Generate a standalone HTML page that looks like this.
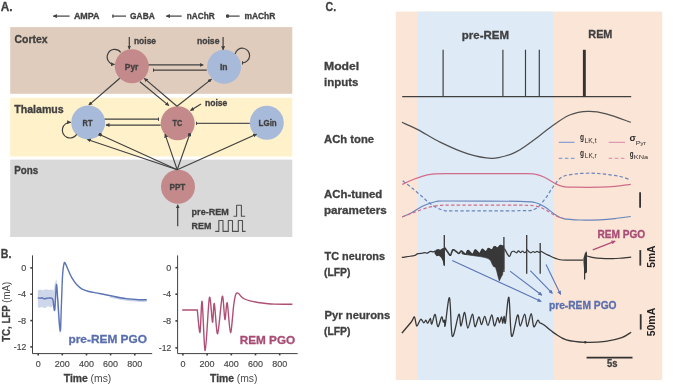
<!DOCTYPE html>
<html><head><meta charset="utf-8"><style>
html,body{margin:0;padding:0;background:#fff;}
svg{display:block;font-family:"Liberation Sans",sans-serif;will-change:transform;}
</style></head><body>
<svg width="685" height="387" viewBox="0 0 685 387">
<rect width="685" height="387" fill="#fff"/>
<defs>
<marker id="ar" viewBox="0 0 10 10" refX="9" refY="5" markerWidth="4" markerHeight="4" markerUnits="userSpaceOnUse" orient="auto"><path d="M0,0 L10,5 L0,10 z" fill="#404040"/></marker>
<marker id="tb" viewBox="0 0 4 10" refX="2" refY="5" markerWidth="1.3" markerHeight="4" markerUnits="userSpaceOnUse" orient="auto"><rect x="0" y="0" width="4" height="10" fill="#404040"/></marker>
<marker id="dt" viewBox="0 0 10 10" refX="5" refY="5" markerWidth="3.5" markerHeight="3.5" markerUnits="userSpaceOnUse" orient="auto"><circle cx="5" cy="5" r="5" fill="#404040"/></marker>
<marker id="arb" viewBox="0 0 10 10" refX="9" refY="5" markerWidth="4.5" markerHeight="4" markerUnits="userSpaceOnUse" orient="auto"><path d="M0,0 L10,5 L0,10 z" fill="#5B74B4"/></marker>
<marker id="arr" viewBox="0 0 10 10" refX="9" refY="5" markerWidth="4.5" markerHeight="4" markerUnits="userSpaceOnUse" orient="auto"><path d="M0,0 L10,5 L0,10 z" fill="#B04F75"/></marker>
</defs>
<text x="0.8" y="11.0" font-size="12.60" font-weight="bold" fill="#404040" text-anchor="start" textLength="11.8" lengthAdjust="spacingAndGlyphs" stroke="#404040" stroke-width="0.30" >A.</text>
<line x1="69.6" y1="16.1" x2="53.3" y2="16.1" stroke="#404040" stroke-width="1.20" marker-end="url(#ar)" />
<text x="73.9" y="19.3" font-size="9.00" font-weight="bold" fill="#404040" text-anchor="start" textLength="25.7" lengthAdjust="spacingAndGlyphs" stroke="#404040" stroke-width="0.30" >AMPA</text>
<line x1="126.0" y1="16.1" x2="112.9" y2="16.1" stroke="#404040" stroke-width="1.20" marker-end="url(#tb)" />
<text x="130.1" y="19.3" font-size="9.00" font-weight="bold" fill="#404040" text-anchor="start" textLength="24.6" lengthAdjust="spacingAndGlyphs" stroke="#404040" stroke-width="0.30" >GABA</text>
<line x1="181.7" y1="16.1" x2="166.3" y2="16.1" stroke="#404040" stroke-width="1.20" marker-end="url(#ar)" />
<text x="186.8" y="19.3" font-size="9.00" font-weight="bold" fill="#404040" text-anchor="start" textLength="27.9" lengthAdjust="spacingAndGlyphs" stroke="#404040" stroke-width="0.30" >nAChR</text>
<line x1="239.6" y1="16.1" x2="227.6" y2="16.1" stroke="#404040" stroke-width="1.20" marker-end="url(#dt)" />
<text x="244.4" y="19.3" font-size="9.00" font-weight="bold" fill="#404040" text-anchor="start" textLength="31.0" lengthAdjust="spacingAndGlyphs" stroke="#404040" stroke-width="0.30" >mAChR</text>
<rect x="10.2" y="27.1" width="282.1" height="66.7" fill="#E0CCBC"/>
<rect x="10.2" y="97.8" width="282.1" height="58.7" fill="#FFF1C9"/>
<rect x="10.2" y="159.6" width="282.1" height="77.4" fill="#D9D9D9"/>
<text x="14.6" y="42.5" font-size="10.10" font-weight="bold" fill="#404040" text-anchor="start" textLength="33.0" lengthAdjust="spacingAndGlyphs" stroke="#404040" stroke-width="0.30" >Cortex</text>
<text x="14.3" y="112.5" font-size="10.10" font-weight="bold" fill="#404040" text-anchor="start" textLength="49.4" lengthAdjust="spacingAndGlyphs" stroke="#404040" stroke-width="0.30" >Thalamus</text>
<text x="14.2" y="174.0" font-size="10.10" font-weight="bold" fill="#404040" text-anchor="start" textLength="24.0" lengthAdjust="spacingAndGlyphs" stroke="#404040" stroke-width="0.30" >Pons</text>
<circle cx="131.8" cy="66.3" r="17" fill="#C4898B"/>
<circle cx="224.1" cy="66.8" r="17" fill="#A8BAD9"/>
<circle cx="88.2" cy="122.4" r="17" fill="#A8BAD9"/>
<circle cx="177.7" cy="123.2" r="17" fill="#C4898B"/>
<circle cx="266.8" cy="122.8" r="17" fill="#A8BAD9"/>
<circle cx="178.0" cy="186.7" r="17" fill="#C4898B"/>
<text x="124.8" y="69.7" font-size="8.50" font-weight="bold" fill="#404040" text-anchor="start" textLength="13.5" lengthAdjust="spacingAndGlyphs" stroke="#404040" stroke-width="0.30" >Pyr</text>
<text x="219.9" y="70.2" font-size="8.50" font-weight="bold" fill="#404040" text-anchor="start" textLength="7.6" lengthAdjust="spacingAndGlyphs" stroke="#404040" stroke-width="0.30" >In</text>
<text x="82.6" y="125.8" font-size="8.50" font-weight="bold" fill="#404040" text-anchor="start" textLength="9.9" lengthAdjust="spacingAndGlyphs" stroke="#404040" stroke-width="0.30" >RT</text>
<text x="172.4" y="126.2" font-size="8.50" font-weight="bold" fill="#404040" text-anchor="start" textLength="9.8" lengthAdjust="spacingAndGlyphs" stroke="#404040" stroke-width="0.30" >TC</text>
<text x="258.6" y="125.9" font-size="8.50" font-weight="bold" fill="#404040" text-anchor="start" textLength="18.1" lengthAdjust="spacingAndGlyphs" stroke="#404040" stroke-width="0.30" >LGin</text>
<text x="169.5" y="190.0" font-size="8.50" font-weight="bold" fill="#404040" text-anchor="start" textLength="15.8" lengthAdjust="spacingAndGlyphs" stroke="#404040" stroke-width="0.30" >PPT</text>
<line x1="129.3" y1="36.9" x2="129.3" y2="49.1" stroke="#404040" stroke-width="1.20" marker-end="url(#ar)" />
<text x="133.9" y="43.9" font-size="9.20" font-weight="bold" fill="#404040" text-anchor="start" textLength="22.2" lengthAdjust="spacingAndGlyphs" stroke="#404040" stroke-width="0.30" >noise</text>
<line x1="223.1" y1="36.9" x2="223.1" y2="49.8" stroke="#404040" stroke-width="1.20" marker-end="url(#ar)" />
<text x="196.9" y="44.4" font-size="9.20" font-weight="bold" fill="#404040" text-anchor="start" textLength="22.6" lengthAdjust="spacingAndGlyphs" stroke="#404040" stroke-width="0.30" >noise</text>
<line x1="201.0" y1="103.9" x2="190.5" y2="110.6" stroke="#404040" stroke-width="1.20" marker-end="url(#ar)" />
<text x="204.9" y="105.5" font-size="9.20" font-weight="bold" fill="#404040" text-anchor="start" textLength="22.5" lengthAdjust="spacingAndGlyphs" stroke="#404040" stroke-width="0.30" >noise</text>
<path d="M120.7,52.4 A7.5,7.5 0 1 0 114.5,64.4" stroke="#404040" stroke-width="1.20" fill="none" marker-end="url(#ar)" />
<path d="M235.2,54.0 A7.3,7.3 0 1 1 242.6,62.8" stroke="#404040" stroke-width="1.20" fill="none" marker-end="url(#tb)" />
<path d="M76.7,134.4 A7.8,7.8 0 1 1 70.7,122.4" stroke="#404040" stroke-width="1.20" fill="none" marker-end="url(#ar)" />
<line x1="148.6" y1="64.9" x2="203.2" y2="64.9" stroke="#404040" stroke-width="1.25" marker-end="url(#ar)" />
<line x1="206.8" y1="70.1" x2="153.5" y2="70.1" stroke="#404040" stroke-width="1.25" marker-end="url(#tb)" />
<line x1="119.8" y1="78.3" x2="88.8" y2="105.1" stroke="#404040" stroke-width="1.20" marker-end="url(#ar)" />
<line x1="139.9" y1="81.7" x2="168.9" y2="105.6" stroke="#404040" stroke-width="1.20" marker-end="url(#ar)" />
<line x1="177.0" y1="106.2" x2="144.3" y2="78.4" stroke="#404040" stroke-width="1.20" marker-end="url(#ar)" />
<line x1="177.0" y1="106.2" x2="211.5" y2="79.1" stroke="#404040" stroke-width="1.20" marker-end="url(#ar)" />
<line x1="104.7" y1="119.2" x2="158.4" y2="119.2" stroke="#404040" stroke-width="1.25" marker-end="url(#tb)" />
<line x1="160.7" y1="125.0" x2="105.9" y2="125.0" stroke="#404040" stroke-width="1.25" marker-end="url(#ar)" />
<line x1="249.8" y1="123.4" x2="196.3" y2="123.4" stroke="#555" stroke-width="1.25" marker-end="url(#tb)" />
<line x1="177.2" y1="169.7" x2="87.4" y2="139.4" stroke="#404040" stroke-width="1.10" marker-end="url(#ar)" />
<line x1="177.2" y1="169.7" x2="100.1" y2="134.7" stroke="#404040" stroke-width="1.10" marker-end="url(#dt)" />
<line x1="177.2" y1="169.7" x2="165.0" y2="134.1" stroke="#404040" stroke-width="1.10" marker-end="url(#ar)" />
<line x1="177.2" y1="169.7" x2="189.5" y2="134.7" stroke="#404040" stroke-width="1.10" marker-end="url(#dt)" />
<line x1="177.2" y1="169.7" x2="256.6" y2="134.2" stroke="#404040" stroke-width="1.10" marker-end="url(#ar)" />
<line x1="177.7" y1="226.3" x2="177.7" y2="204.7" stroke="#404040" stroke-width="1.20" marker-end="url(#ar)" />
<text x="191.6" y="215.1" font-size="9.20" font-weight="bold" fill="#404040" text-anchor="start" textLength="37.2" lengthAdjust="spacingAndGlyphs" stroke="#404040" stroke-width="0.30" >pre-REM</text>
<text x="191.6" y="229.0" font-size="9.20" font-weight="bold" fill="#404040" text-anchor="start" textLength="19.8" lengthAdjust="spacingAndGlyphs" stroke="#404040" stroke-width="0.30" >REM</text>
<path d="M233.5,216.3 L236.6,216.3 L236.6,205.3 L241.4,205.3 L241.4,216.3 L245.2,216.3" stroke="#505050" stroke-width="1.10" fill="none" stroke-linejoin="round"/>
<path d="M215.2,231.4 L218.8,231.4 L218.8,220.5 L223.0,220.5 L223.0,231.4 L228.3,231.4 L228.3,220.5 L232.5,220.5 L232.5,231.4 L238.3,231.4 L238.3,220.5 L242.5,220.5 L242.5,231.4 L245.6,231.4" stroke="#505050" stroke-width="1.10" fill="none" stroke-linejoin="round"/>
<text x="0.8" y="258.0" font-size="12.60" font-weight="bold" fill="#404040" text-anchor="start" textLength="10.6" lengthAdjust="spacingAndGlyphs" stroke="#404040" stroke-width="0.30" >B.</text>
<line x1="32.5" y1="255.4" x2="32.5" y2="353.6" stroke="#404040" stroke-width="1.00" />
<line x1="32.5" y1="353.6" x2="152.2" y2="353.6" stroke="#404040" stroke-width="1.00" />
<line x1="30.3" y1="267.9" x2="32.5" y2="267.9" stroke="#404040" stroke-width="1.60" />
<text x="26.2" y="271.0" font-size="9.20" font-weight="normal" fill="#454545" text-anchor="end" textLength="5.0" lengthAdjust="spacingAndGlyphs" stroke="#454545" stroke-width="0.15">0</text>
<line x1="30.3" y1="294.2" x2="32.5" y2="294.2" stroke="#404040" stroke-width="1.60" />
<text x="26.2" y="297.3" font-size="9.20" font-weight="normal" fill="#454545" text-anchor="end" textLength="8.2" lengthAdjust="spacingAndGlyphs" stroke="#454545" stroke-width="0.15">-4</text>
<line x1="30.3" y1="320.6" x2="32.5" y2="320.6" stroke="#404040" stroke-width="1.60" />
<text x="26.2" y="323.7" font-size="9.20" font-weight="normal" fill="#454545" text-anchor="end" textLength="8.2" lengthAdjust="spacingAndGlyphs" stroke="#454545" stroke-width="0.15">-8</text>
<line x1="30.3" y1="346.9" x2="32.5" y2="346.9" stroke="#404040" stroke-width="1.60" />
<text x="26.2" y="350.0" font-size="9.20" font-weight="normal" fill="#454545" text-anchor="end" textLength="12.4" lengthAdjust="spacingAndGlyphs" stroke="#454545" stroke-width="0.15">-12</text>
<line x1="38.2" y1="353.6" x2="38.2" y2="355.4" stroke="#404040" stroke-width="1.60" />
<text x="38.2" y="367.0" font-size="9.20" font-weight="normal" fill="#454545" text-anchor="middle" textLength="5.0" lengthAdjust="spacingAndGlyphs" stroke="#454545" stroke-width="0.15">0</text>
<line x1="62.3" y1="353.6" x2="62.3" y2="355.4" stroke="#404040" stroke-width="1.60" />
<text x="62.3" y="367.0" font-size="9.20" font-weight="normal" fill="#454545" text-anchor="middle" textLength="15.0" lengthAdjust="spacingAndGlyphs" stroke="#454545" stroke-width="0.15">200</text>
<line x1="86.5" y1="353.6" x2="86.5" y2="355.4" stroke="#404040" stroke-width="1.60" />
<text x="86.5" y="367.0" font-size="9.20" font-weight="normal" fill="#454545" text-anchor="middle" textLength="15.0" lengthAdjust="spacingAndGlyphs" stroke="#454545" stroke-width="0.15">400</text>
<line x1="110.6" y1="353.6" x2="110.6" y2="355.4" stroke="#404040" stroke-width="1.60" />
<text x="110.6" y="367.0" font-size="9.20" font-weight="normal" fill="#454545" text-anchor="middle" textLength="15.0" lengthAdjust="spacingAndGlyphs" stroke="#454545" stroke-width="0.15">600</text>
<line x1="134.8" y1="353.6" x2="134.8" y2="355.4" stroke="#404040" stroke-width="1.60" />
<text x="134.8" y="367.0" font-size="9.20" font-weight="normal" fill="#454545" text-anchor="middle" textLength="15.0" lengthAdjust="spacingAndGlyphs" stroke="#454545" stroke-width="0.15">800</text>
<line x1="177.6" y1="255.4" x2="177.6" y2="353.6" stroke="#404040" stroke-width="1.00" />
<line x1="177.6" y1="353.6" x2="297.7" y2="353.6" stroke="#404040" stroke-width="1.00" />
<line x1="175.4" y1="267.7" x2="177.6" y2="267.7" stroke="#404040" stroke-width="1.60" />
<text x="171.2" y="270.8" font-size="9.20" font-weight="normal" fill="#454545" text-anchor="end" textLength="5.0" lengthAdjust="spacingAndGlyphs" stroke="#454545" stroke-width="0.15">0</text>
<line x1="175.4" y1="294.2" x2="177.6" y2="294.2" stroke="#404040" stroke-width="1.60" />
<text x="171.2" y="297.3" font-size="9.20" font-weight="normal" fill="#454545" text-anchor="end" textLength="8.2" lengthAdjust="spacingAndGlyphs" stroke="#454545" stroke-width="0.15">-4</text>
<line x1="175.4" y1="320.9" x2="177.6" y2="320.9" stroke="#404040" stroke-width="1.60" />
<text x="171.2" y="324.0" font-size="9.20" font-weight="normal" fill="#454545" text-anchor="end" textLength="8.2" lengthAdjust="spacingAndGlyphs" stroke="#454545" stroke-width="0.15">-8</text>
<line x1="175.4" y1="347.9" x2="177.6" y2="347.9" stroke="#404040" stroke-width="1.60" />
<text x="171.2" y="351.0" font-size="9.20" font-weight="normal" fill="#454545" text-anchor="end" textLength="12.4" lengthAdjust="spacingAndGlyphs" stroke="#454545" stroke-width="0.15">-12</text>
<line x1="182.9" y1="353.6" x2="182.9" y2="355.4" stroke="#404040" stroke-width="1.60" />
<text x="182.9" y="367.0" font-size="9.20" font-weight="normal" fill="#454545" text-anchor="middle" textLength="5.0" lengthAdjust="spacingAndGlyphs" stroke="#454545" stroke-width="0.15">0</text>
<line x1="207.1" y1="353.6" x2="207.1" y2="355.4" stroke="#404040" stroke-width="1.60" />
<text x="207.1" y="367.0" font-size="9.20" font-weight="normal" fill="#454545" text-anchor="middle" textLength="15.0" lengthAdjust="spacingAndGlyphs" stroke="#454545" stroke-width="0.15">200</text>
<line x1="231.3" y1="353.6" x2="231.3" y2="355.4" stroke="#404040" stroke-width="1.60" />
<text x="231.3" y="367.0" font-size="9.20" font-weight="normal" fill="#454545" text-anchor="middle" textLength="15.0" lengthAdjust="spacingAndGlyphs" stroke="#454545" stroke-width="0.15">400</text>
<line x1="255.5" y1="353.6" x2="255.5" y2="355.4" stroke="#404040" stroke-width="1.60" />
<text x="255.5" y="367.0" font-size="9.20" font-weight="normal" fill="#454545" text-anchor="middle" textLength="15.0" lengthAdjust="spacingAndGlyphs" stroke="#454545" stroke-width="0.15">600</text>
<line x1="279.7" y1="353.6" x2="279.7" y2="355.4" stroke="#404040" stroke-width="1.60" />
<text x="279.7" y="367.0" font-size="9.20" font-weight="normal" fill="#454545" text-anchor="middle" textLength="15.0" lengthAdjust="spacingAndGlyphs" stroke="#454545" stroke-width="0.15">800</text>
<text transform="translate(9.8,341.8) rotate(-90)" font-size="10.4" fill="#404040" textLength="60" lengthAdjust="spacingAndGlyphs"><tspan font-weight="bold" stroke="#404040" stroke-width="0.3">TC, LFP </tspan><tspan fill="#4a4a4a">(mA)</tspan></text>
<text x="63.8" y="381.5" font-size="10.3" fill="#404040" textLength="47.5" lengthAdjust="spacingAndGlyphs"><tspan font-weight="bold" stroke="#404040" stroke-width="0.3">Time </tspan><tspan fill="#4a4a4a">(ms)</tspan></text>
<text x="210.0" y="381.5" font-size="10.3" fill="#404040" textLength="47.5" lengthAdjust="spacingAndGlyphs"><tspan font-weight="bold" stroke="#404040" stroke-width="0.3">Time </tspan><tspan fill="#4a4a4a">(ms)</tspan></text>
<path d="M37.8,290.5 L40.0,289.6 L43.0,290.2 L46.0,289.3 L49.0,290.0 L52.0,289.5 L53.5,291.0 L55.0,283.0 L56.5,279.0 L58.0,296.0 L59.7,325.0 L59.7,336.0 L58.0,320.0 L56.5,292.0 L55.0,312.0 L53.8,311.0 L53.0,306.0 L51.0,307.5 L48.0,306.0 L45.0,308.2 L42.0,307.0 L39.0,308.0 L37.8,306.5 Z" fill="#C9D1E8" opacity="0.9"/>
<path d="M110.0,296.2 C112.6,296.7 120.9,298.5 125.7,299.2 C130.5,299.9 135.3,300.2 138.8,300.4 C142.3,300.6 145.4,300.4 146.7,300.4" stroke="#C9D1E8" stroke-width="2.80" fill="none" />
<path d="M37.8,297.8 C38.2,297.9 39.3,298.3 40.0,298.3 C40.7,298.3 41.2,297.7 42.0,297.8 C42.8,297.9 43.7,298.7 44.5,298.8 C45.3,298.9 46.1,298.3 47.0,298.2 C47.9,298.1 49.0,297.8 50.0,298.0 C51.0,298.2 52.0,297.4 52.8,299.4 C53.6,301.4 54.1,312.5 54.7,310.0 C55.3,307.5 55.9,286.3 56.4,284.6 C56.9,282.9 57.2,292.3 57.8,300.0 C58.4,307.7 59.6,330.2 60.2,331.0 C60.8,331.8 61.0,314.3 61.4,305.0 C61.8,295.7 62.1,282.0 62.6,275.0 C63.1,268.0 63.7,264.7 64.2,263.0 C64.8,261.3 65.3,263.6 65.9,264.6 C66.5,265.6 66.9,267.0 67.9,269.2 C68.9,271.4 70.4,275.2 71.8,277.7 C73.2,280.2 74.8,282.4 76.4,284.3 C78.1,286.2 79.6,287.7 81.7,288.9 C83.8,290.1 86.0,290.7 88.9,291.5 C91.9,292.3 95.5,292.7 99.4,293.5 C103.4,294.3 108.2,295.2 112.6,296.1 C117.0,297.0 121.3,298.0 125.7,298.6 C130.1,299.2 135.3,299.5 138.8,299.7 C142.3,299.9 145.4,299.8 146.7,299.8" stroke="#5B74B4" stroke-width="1.40" fill="none" />
<text x="68.5" y="343.0" font-size="11.60" font-weight="bold" fill="#5A6FAE" text-anchor="start" textLength="78.5" lengthAdjust="spacingAndGlyphs" stroke="#5A6FAE" stroke-width="0.30" >pre-REM PGO</text>
<path d="M182.2,310.0 L197.3,310.0 C197.7,313.4 199.3,333.8 200.0,332.5 C200.7,331.2 201.3,298.8 202.1,301.5 C202.9,304.2 204.1,351.2 205.2,350.6 C206.3,350.0 208.3,301.9 209.4,297.6 C210.5,293.3 211.8,321.3 212.5,322.2 C213.2,323.1 213.5,301.9 214.3,303.6 C215.1,305.3 216.4,334.9 217.6,333.8 C218.8,332.7 221.2,298.4 222.3,296.3 C223.4,294.2 224.2,318.6 224.9,319.6 C225.6,320.6 226.4,300.9 227.2,302.8 C228.0,304.7 229.5,332.0 230.5,332.5 C231.5,333.0 232.9,311.6 233.6,306.0 C234.3,300.4 234.9,297.4 235.4,295.4 C235.9,293.4 236.5,293.1 237.0,292.9 C237.5,292.7 238.3,293.3 238.9,293.8 C239.5,294.3 240.3,295.6 241.0,296.3 C241.7,297.0 242.2,297.8 243.6,298.5 C244.9,299.2 247.9,300.3 250.0,300.9 C252.1,301.5 255.5,302.1 257.9,302.5 C260.3,302.9 263.5,303.3 266.0,303.5 C268.5,303.7 270.3,304.0 274.3,304.1 C278.3,304.2 289.7,304.3 292.4,304.3" stroke="#B04F75" stroke-width="1.40" fill="none" />
<text x="239.8" y="344.2" font-size="11.80" font-weight="bold" fill="#A84C75" text-anchor="start" textLength="55.4" lengthAdjust="spacingAndGlyphs" stroke="#A84C75" stroke-width="0.30" >REM PGO</text>
<text x="325.5" y="10.9" font-size="12.60" font-weight="bold" fill="#404040" text-anchor="start" textLength="10.6" lengthAdjust="spacingAndGlyphs" stroke="#404040" stroke-width="0.30" >C.</text>
<rect x="395.8" y="11.6" width="266.4" height="368.4" fill="#FBE5D6"/>
<rect x="417.4" y="11.6" width="136.0" height="368.4" fill="#DEEBF7"/>
<text x="461.8" y="38.5" font-size="11.00" font-weight="bold" fill="#404040" text-anchor="start" textLength="47.2" lengthAdjust="spacingAndGlyphs" stroke="#404040" stroke-width="0.30" >pre-REM</text>
<text x="588.3" y="38.1" font-size="11.00" font-weight="bold" fill="#404040" text-anchor="start" textLength="24.1" lengthAdjust="spacingAndGlyphs" stroke="#404040" stroke-width="0.30" >REM</text>
<text x="324.0" y="70.0" font-size="11.00" font-weight="bold" fill="#404040" text-anchor="start" textLength="35.2" lengthAdjust="spacingAndGlyphs" stroke="#404040" stroke-width="0.30" >Model</text>
<text x="324.0" y="85.5" font-size="11.00" font-weight="bold" fill="#404040" text-anchor="start" textLength="34.4" lengthAdjust="spacingAndGlyphs" stroke="#404040" stroke-width="0.30" >inputs</text>
<text x="324.0" y="142.5" font-size="11.00" font-weight="bold" fill="#404040" text-anchor="start" textLength="50.1" lengthAdjust="spacingAndGlyphs" stroke="#404040" stroke-width="0.30" >ACh tone</text>
<text x="324.0" y="198.2" font-size="11.00" font-weight="bold" fill="#404040" text-anchor="start" textLength="58.2" lengthAdjust="spacingAndGlyphs" stroke="#404040" stroke-width="0.30" >ACh-tuned</text>
<text x="324.0" y="213.9" font-size="11.00" font-weight="bold" fill="#404040" text-anchor="start" textLength="62.8" lengthAdjust="spacingAndGlyphs" stroke="#404040" stroke-width="0.30" >parameters</text>
<text x="324.5" y="260.1" font-size="11.00" font-weight="bold" fill="#404040" text-anchor="start" textLength="60.5" lengthAdjust="spacingAndGlyphs" stroke="#404040" stroke-width="0.30" >TC neurons</text>
<text x="324.0" y="275.9" font-size="11.00" font-weight="bold" fill="#404040" text-anchor="start" textLength="26.5" lengthAdjust="spacingAndGlyphs" stroke="#404040" stroke-width="0.30" >(LFP)</text>
<text x="324.5" y="318.8" font-size="11.00" font-weight="bold" fill="#404040" text-anchor="start" textLength="65.7" lengthAdjust="spacingAndGlyphs" stroke="#404040" stroke-width="0.30" >Pyr neurons</text>
<text x="324.0" y="334.5" font-size="11.00" font-weight="bold" fill="#404040" text-anchor="start" textLength="26.5" lengthAdjust="spacingAndGlyphs" stroke="#404040" stroke-width="0.30" >(LFP)</text>
<line x1="402.2" y1="96.6" x2="631.2" y2="96.6" stroke="#404040" stroke-width="1.20" />
<line x1="443.1" y1="49.7" x2="443.1" y2="96.6" stroke="#404040" stroke-width="1.20" />
<line x1="502.9" y1="49.7" x2="502.9" y2="96.6" stroke="#404040" stroke-width="1.20" />
<line x1="525.5" y1="49.7" x2="525.5" y2="96.6" stroke="#404040" stroke-width="1.20" />
<line x1="539.3" y1="49.7" x2="539.3" y2="96.6" stroke="#404040" stroke-width="1.20" />
<rect x="582.9" y="49.8" width="2.9" height="46.8" fill="#333"/>
<path d="M401.9,122.3 C404.5,123.5 411.4,126.2 417.8,129.6 C424.2,132.9 432.2,138.3 440.6,142.4 C449.0,146.5 459.5,151.2 468.0,153.9 C476.5,156.6 485.0,158.1 491.7,158.3 C498.4,158.5 503.4,156.6 508.1,155.2 C512.8,153.8 515.8,152.1 520.0,149.7 C524.2,147.3 528.0,144.5 533.2,140.6 C538.5,136.7 545.4,130.8 551.5,126.5 C557.6,122.2 563.6,117.5 569.7,115.0 C575.8,112.5 581.9,111.6 588.0,111.4 C594.1,111.2 599.1,112.0 606.2,113.8 C613.4,115.6 626.8,120.9 630.9,122.3" stroke="#505050" stroke-width="1.20" fill="none" />
<line x1="558.8" y1="142.3" x2="574.6" y2="142.3" stroke="#6F92D2" stroke-width="1.00" />
<line x1="558.8" y1="158.3" x2="574.6" y2="158.3" stroke="#6F92D2" stroke-width="1.00" stroke-dasharray="3.5,2.6"/>
<line x1="608.7" y1="142.3" x2="625.0" y2="142.3" stroke="#D985A8" stroke-width="1.00" />
<line x1="608.7" y1="158.3" x2="625.0" y2="158.3" stroke="#D985A8" stroke-width="1.00" stroke-dasharray="3.5,2.6"/>
<text x="579.9" y="140.1" font-size="9.0" font-weight="bold" fill="#2a2a2a" textLength="4.0" lengthAdjust="spacingAndGlyphs">g</text>
<text x="584.6" y="142.5" font-size="6.3" fill="#333" textLength="12.0" lengthAdjust="spacingAndGlyphs">LK,t</text>
<text x="580.0" y="155.6" font-size="9.0" font-weight="bold" fill="#2a2a2a" textLength="4.0" lengthAdjust="spacingAndGlyphs">g</text>
<text x="584.8" y="157.6" font-size="6.3" fill="#333" textLength="12.0" lengthAdjust="spacingAndGlyphs">LK,r</text>
<text x="629.6" y="141.0" font-size="8.6" font-weight="bold" fill="#2a2a2a" textLength="6.4" lengthAdjust="spacingAndGlyphs">σ</text>
<text x="635.8" y="144.6" font-size="5.6" fill="#333" textLength="10.2" lengthAdjust="spacingAndGlyphs">Pyr</text>
<text x="629.8" y="157.2" font-size="9.0" font-weight="bold" fill="#2a2a2a" textLength="3.8" lengthAdjust="spacingAndGlyphs">g</text>
<text x="633.8" y="158.7" font-size="4.8" fill="#333" textLength="14.3" lengthAdjust="spacingAndGlyphs">KNa</text>
<path d="M402.2,184.4 C403.8,183.7 408.7,181.3 412.0,180.0 C415.3,178.7 418.6,177.3 422.0,176.3 C425.4,175.3 428.7,174.6 432.5,174.2 C436.3,173.8 430.4,173.8 445.0,173.7 C459.6,173.6 505.0,173.5 520.0,173.6 C535.0,173.7 530.8,173.5 535.0,174.2 C539.2,174.8 541.7,175.9 545.0,177.5 C548.3,179.1 551.9,182.0 555.0,183.5 C558.1,185.0 560.1,186.0 563.4,186.6 C566.7,187.2 568.9,187.1 575.0,187.2 C581.1,187.3 593.3,187.3 600.0,187.2 C606.7,187.1 609.9,186.9 615.0,186.4 C620.1,185.9 628.2,184.7 630.8,184.4" stroke="#D06C88" stroke-width="1.20" fill="none" />
<path d="M402.7,180.8 C404.2,182.0 408.8,185.4 412.0,188.0 C415.2,190.6 418.7,193.7 422.0,196.5 C425.3,199.3 428.4,202.7 432.0,205.0 C435.6,207.3 439.6,209.3 443.4,210.3 C447.2,211.3 442.2,210.7 455.0,210.8 C467.8,210.9 506.7,211.0 520.0,210.7 C533.3,210.4 530.8,210.9 535.0,209.0 C539.2,207.1 542.0,202.7 545.0,199.0 C548.0,195.3 550.2,190.6 553.0,187.0 C555.8,183.4 557.9,179.4 561.6,177.2 C565.3,175.0 570.3,174.7 575.0,174.0 C579.7,173.3 585.0,173.2 590.0,173.2 C595.0,173.2 600.0,173.6 605.0,174.2 C610.0,174.8 615.9,175.6 620.0,176.5 C624.1,177.4 627.9,179.0 629.5,179.5" stroke="#6A84BC" stroke-width="1.20" fill="none" stroke-dasharray="3.4,2.25"/>
<path d="M402.2,217.0 C403.8,216.2 408.4,214.4 412.0,212.5 C415.6,210.6 420.0,207.3 424.0,205.5 C428.0,203.7 431.9,202.2 436.2,201.5 C440.5,200.8 436.0,201.0 450.0,201.0 C464.0,201.0 505.8,201.1 520.0,201.3 C534.2,201.6 530.8,201.6 535.0,202.5 C539.2,203.4 541.7,205.0 545.0,207.0 C548.3,209.0 551.9,212.6 555.0,214.5 C558.1,216.4 559.2,217.7 563.4,218.6 C567.6,219.5 573.9,219.8 580.0,220.0 C586.1,220.2 594.2,220.0 600.0,219.8 C605.8,219.6 609.9,219.2 615.0,218.6 C620.1,218.0 628.2,216.8 630.8,216.5" stroke="#6A84BC" stroke-width="1.20" fill="none" />
<path d="M402.2,217.0 C404.2,216.2 409.7,214.1 414.0,212.5 C418.3,210.9 423.4,208.7 428.0,207.5 C432.6,206.3 437.1,205.7 441.6,205.3 C446.1,204.9 441.9,205.2 455.0,205.2 C468.1,205.2 506.7,205.1 520.0,205.2 C533.3,205.3 530.8,205.3 535.0,206.0 C539.2,206.7 541.7,207.9 545.0,209.5 C548.3,211.1 551.9,214.0 555.0,215.5 C558.1,217.0 562.0,218.1 563.4,218.6" stroke="#D06C88" stroke-width="1.20" fill="none" stroke-dasharray="3.4,2.25"/>
<line x1="640.1" y1="192.3" x2="640.1" y2="207.8" stroke="#333" stroke-width="1.80" />
<path d="M401.8,257.4 C402.8,257.2 405.9,256.8 408.0,256.5 C410.1,256.2 413.0,256.0 414.6,255.5 C416.2,255.0 416.6,254.0 417.9,253.6 C419.2,253.2 421.0,253.3 422.2,253.2 C423.4,253.0 424.2,252.7 425.1,252.7 C426.0,252.7 426.4,253.4 427.3,253.2 C428.2,253.0 429.5,251.6 430.5,251.4 C431.5,251.2 432.4,252.0 433.1,251.9 C433.9,251.8 434.7,251.2 435.0,251.0" stroke="#383838" stroke-width="1.25" fill="none" />
<path d="M434.5,251.2 L436.5,249.6 L438.1,249.0 L440.3,249.8 L442.0,248.6 L443.6,248.0 L444.6,247.4 L444.6,265.7 L443.6,265.0 L442.8,261.0 L441.0,257.4 L438.9,255.8 L436.7,256.3 L434.5,253.4 Z" fill="#383838"/>
<line x1="444.3" y1="235.0" x2="444.3" y2="265.7" stroke="#383838" stroke-width="1.30" />
<path d="M444.6,247.6 L444.9,248.1 L445.4,248.7 L445.9,249.5 L446.4,250.3 L447.0,251.1 L447.5,251.8 L448.0,252.5 L448.5,253.3 L449.0,254.1 L449.5,254.7 L449.9,255.2 L450.4,255.2 L450.8,254.7 L451.2,253.8 L451.6,252.6 L452.0,251.4 L452.4,250.4 L452.9,249.8 L453.4,249.7 L454.1,249.9 L454.7,250.4 L455.3,250.9 L456.0,251.4 L456.5,251.8 L457.0,252.1 L457.4,252.5 L457.8,252.9 L458.2,253.2 L458.6,253.4 L459.0,253.4 L459.4,253.2 L459.7,252.7 L460.1,252.2 L460.4,251.6 L460.8,251.2 L461.2,251.0 L461.6,251.1 L462.1,251.4 L462.6,251.9 L463.1,252.4 L463.6,252.8 L464.0,253.2 L464.4,253.5 L464.7,253.8 L465.1,254.1 L465.4,254.3 L465.7,254.3 L466.0,254.2 L466.3,253.8 L466.6,253.1 L466.9,252.3 L467.2,251.5 L467.5,250.9 L467.9,250.6 L468.3,250.6 L468.7,250.9 L469.2,251.4 L469.6,251.9 L470.1,252.4 L470.5,252.8 L470.9,253.1 L471.4,253.5 L471.8,253.9 L472.2,254.2 L472.6,254.3 L473.0,254.2 L473.4,253.8 L473.7,253.0 L474.1,252.1 L474.4,251.2 L474.8,250.5 L475.2,250.1 L475.6,250.1 L476.1,250.4 L476.5,250.8 L476.9,251.3 L477.4,251.8 L477.8,252.2 L478.2,252.5 L478.6,252.9 L478.9,253.2 L479.3,253.4 L479.6,253.5 L480.0,253.4 L480.4,253.0 L480.7,252.3 L481.1,251.4 L481.5,250.6 L481.8,249.9 L482.2,249.5 L482.6,249.4 L482.9,249.6 L483.3,250.0 L483.7,250.4 L484.1,250.7 L484.4,251.0 L484.7,251.2 L485.0,251.5 L485.3,251.7 L485.6,251.8 L485.9,251.9 L486.2,251.8 L486.5,251.5 L486.9,250.9 L487.2,250.2 L487.6,249.6 L487.9,249.0 L488.3,248.7 L488.7,248.6 L489.0,248.7 L489.4,248.9 L489.8,249.2 L490.2,249.4 L490.5,249.6 L490.8,249.7 L491.1,249.8 L491.4,249.9 L491.7,250.0 L492.0,250.0 L492.3,249.8 L492.6,249.4 L493.0,248.9 L493.4,248.2 L493.8,247.5 L494.1,247.0 L494.5,246.7 L494.9,246.7 L495.2,246.8 L495.5,247.0 L495.9,247.3 L496.2,247.6 L496.5,247.8 L496.8,247.9 L497.0,248.0 L497.2,248.1 L497.5,248.2 L497.7,248.1 L498.0,248.0 L498.3,247.7 L498.7,247.3 L499.1,246.8 L499.4,246.3 L499.8,245.9 L500.2,245.6 L500.6,245.5 L501.0,245.6 L501.3,245.8 L501.7,245.9 L502.1,246.1 L502.4,246.2 L502.7,246.2 L503.0,246.2 L503.3,246.1 L503.5,246.1 L503.7,246.0 L503.9,246.0" stroke="#383838" stroke-width="1.60" fill="none" stroke-linejoin="round"/>
<path d="M462.1,251.4 L462.6,251.9 L463.1,252.4 L463.6,252.8 L464.0,253.2 L464.4,253.5 L464.7,253.8 L465.1,254.1 L465.4,254.3 L465.7,254.3 L466.0,254.2 L466.3,253.8 L466.6,253.1 L466.9,252.3 L467.2,251.5 L467.5,250.9 L467.9,250.6 L468.3,250.6 L468.7,250.9 L469.2,251.4 L469.6,251.9 L470.1,252.4 L470.5,252.8 L470.9,253.1 L471.4,253.5 L471.8,253.9 L472.2,254.2 L472.6,254.3 L473.0,254.2 L473.4,253.8 L473.7,253.0 L474.1,252.1 L474.4,251.2 L474.8,250.5 L475.2,250.1 L475.6,250.1 L476.1,250.4 L476.5,250.8 L476.9,251.3 L477.4,251.8 L477.8,252.2 L478.2,252.5 L478.6,252.9 L478.9,253.2 L479.3,253.4 L479.6,253.5 L480.0,253.4 L480.4,253.0 L480.7,252.3 L481.1,251.4 L481.5,250.6 L481.8,249.9 L482.2,249.5 L482.6,249.4 L482.9,249.6 L483.3,250.0 L483.7,250.4 L484.1,250.7 L484.4,251.0 L484.7,251.2 L485.0,251.5 L485.3,251.7 L485.6,251.8 L485.9,251.9 L486.2,251.8 L486.5,251.5 L486.9,250.9 L487.2,250.2 L487.6,249.6 L487.9,249.0 L488.3,248.7 L488.7,248.6 L489.0,248.7 L489.4,248.9 L489.8,249.2 L490.2,249.4 L490.5,249.6 L490.8,249.7 L491.1,249.8 L491.4,249.9 L491.7,250.0 L492.0,250.0 L492.3,249.8 L492.6,249.4 L493.0,248.9 L493.4,248.2 L493.8,247.5 L494.1,247.0 L494.5,246.7 L494.9,246.7 L495.2,246.8 L495.5,247.0 L495.9,247.3 L496.2,247.6 L496.5,247.8 L496.8,247.9 L497.0,248.0 L497.2,248.1 L497.5,248.2 L497.7,248.1 L498.0,248.0 L498.3,247.7 L498.7,247.3 L499.1,246.8 L499.4,246.3 L499.8,245.9 L500.2,245.6 L500.6,245.5 L501.0,245.6 L501.3,245.8 L501.7,245.9 L502.1,246.1 L502.4,246.2 L502.7,246.2 L503.0,246.2 L503.3,246.1 L503.5,246.1 L503.7,246.0 L503.9,246.0 L503.9,269.0 L503.2,269.8 L502.6,274.7 L501.7,276.0 L500.5,278.4 L499.3,280.9 L498.0,276.6 L496.8,271.6 L495.5,267.3 L493.7,266.7 L492.4,264.8 L490.6,260.5 L488.1,258.6 L485.0,257.6 L480.0,256.6 L475.0,255.9 L470.0,255.2 L466.0,254.6 L462.0,253.9 Z" fill="#383838" stroke="#383838" stroke-width="0.6" stroke-linejoin="round"/>
<line x1="503.9" y1="237.0" x2="503.9" y2="272.0" stroke="#383838" stroke-width="1.30" />
<path d="M504.4,248.5 C505.0,249.6 507.0,253.6 507.9,254.9 C508.8,256.2 509.2,256.6 509.8,256.1 C510.4,255.6 511.0,252.6 511.7,251.8 C512.4,251.0 513.3,251.2 514.1,251.4 C514.9,251.6 515.8,252.9 516.5,252.8 C517.2,252.7 517.8,250.8 518.5,250.8 C519.2,250.8 519.8,252.6 520.5,252.6 C521.2,252.6 521.8,251.0 522.5,251.0 C523.2,251.0 523.8,252.5 524.5,252.6 C525.2,252.7 526.2,251.7 526.5,251.5" stroke="#383838" stroke-width="1.20" fill="none" />
<line x1="526.7" y1="235.1" x2="526.7" y2="273.8" stroke="#383838" stroke-width="1.30" />
<path d="M527.0,249.5 C527.3,249.9 528.3,251.2 529.0,251.8 C529.7,252.4 530.3,252.9 531.0,252.8 C531.7,252.8 532.3,251.6 533.0,251.5 C533.7,251.4 534.3,252.5 535.0,252.5 C535.7,252.5 536.3,251.3 537.0,251.3 C537.7,251.3 538.5,252.2 539.0,252.3 C539.5,252.4 540.0,251.9 540.2,251.8" stroke="#383838" stroke-width="1.20" fill="none" />
<line x1="540.2" y1="243.0" x2="540.2" y2="273.8" stroke="#383838" stroke-width="1.30" />
<path d="M540.6,251.0 C542.0,251.7 545.7,254.0 548.8,255.4 C551.9,256.8 555.6,258.7 559.0,259.5 C562.4,260.3 565.2,260.0 569.2,260.1 C573.2,260.2 580.8,260.1 583.1,260.1" stroke="#383838" stroke-width="1.20" fill="none" />
<path d="M583.3,259 L584.8,253.5 L586.3,251.1 L587.0,253 L587.0,272.2 L585.6,273.5 L584.2,272 Z" fill="#383838"/>
<line x1="584.6" y1="270.0" x2="584.6" y2="279.5" stroke="#383838" stroke-width="1.20" />
<path d="M587.0,256.0 C587.8,256.2 589.6,256.9 592.0,257.3 C594.4,257.7 597.8,258.2 601.3,258.4 C604.8,258.6 609.5,258.7 613.0,258.6 C616.5,258.6 619.0,258.3 622.0,258.1 C625.0,257.9 629.7,257.4 631.2,257.2" stroke="#383838" stroke-width="1.20" fill="none" />
<line x1="640.3" y1="250.1" x2="640.3" y2="265.6" stroke="#333" stroke-width="1.80" />
<line x1="452.2" y1="260.5" x2="541.2" y2="301.5" stroke="#5B74B4" stroke-width="1.10" marker-end="url(#arb)" />
<line x1="510.0" y1="271.1" x2="541.9" y2="295.2" stroke="#5B74B4" stroke-width="1.10" marker-end="url(#arb)" />
<line x1="530.3" y1="270.7" x2="552.4" y2="293.4" stroke="#5B74B4" stroke-width="1.10" marker-end="url(#arb)" />
<line x1="546.0" y1="264.4" x2="560.6" y2="294.5" stroke="#5B74B4" stroke-width="1.10" marker-end="url(#arb)" />
<text x="548.9" y="308.5" font-size="10.50" font-weight="bold" fill="#5A6FAE" text-anchor="start" textLength="67.7" lengthAdjust="spacingAndGlyphs" stroke="#5A6FAE" stroke-width="0.30" >pre-REM PGO</text>
<line x1="592.8" y1="249.9" x2="615.2" y2="241.1" stroke="#B04F75" stroke-width="1.20" marker-end="url(#arr)" />
<text x="597.4" y="237.9" font-size="10.50" font-weight="bold" fill="#A84C75" text-anchor="start" textLength="47.8" lengthAdjust="spacingAndGlyphs" stroke="#A84C75" stroke-width="0.30" >REM PGO</text>
<path d="M401.9,333.1 C403.5,331.2 409.5,324.2 411.6,321.5 C413.7,318.8 413.6,316.2 414.5,317.0 C415.4,317.8 415.8,325.6 416.8,326.0 C417.8,326.4 419.5,319.8 420.7,319.3 C421.9,318.8 423.0,322.7 423.9,322.8 C424.8,322.9 425.1,320.1 425.8,320.2 C426.5,320.3 427.0,323.5 427.8,323.2 C428.6,322.9 429.8,318.1 430.4,318.3 C431.0,318.5 430.9,324.8 431.7,324.1 C432.5,323.5 434.1,314.0 435.1,314.4 C436.1,314.8 436.8,326.3 437.9,326.7 C439.0,327.1 440.7,317.8 441.6,317.0 C442.5,316.2 442.8,321.6 443.3,322.1 C443.8,322.6 444.3,319.6 444.6,320.2 C444.9,320.8 444.4,329.1 445.2,325.4 C446.0,321.7 448.3,296.0 449.5,297.8 C450.7,299.6 450.8,333.5 452.3,336.3 C453.9,339.1 457.4,316.1 458.8,314.4 C460.2,312.7 460.0,326.3 461.0,326.0 C462.0,325.7 463.5,312.1 464.6,312.4 C465.7,312.7 466.5,327.7 467.8,328.0 C469.1,328.3 471.2,314.3 472.4,314.1 C473.6,313.9 473.9,326.2 475.0,326.7 C476.1,327.2 477.8,317.3 478.9,317.0 C480.0,316.7 480.5,324.8 481.5,324.7 C482.5,324.6 483.6,316.2 484.7,316.3 C485.8,316.4 486.7,325.6 487.9,325.4 C489.1,325.2 490.7,314.9 491.8,315.0 C492.9,315.1 493.4,325.6 494.4,326.0 C495.4,326.4 496.8,318.1 497.6,317.6 C498.5,317.1 498.9,322.9 499.5,322.8 C500.1,322.7 500.9,316.9 501.5,317.0 C502.1,317.1 502.4,323.3 502.8,323.2 C503.2,323.1 503.7,316.4 504.1,316.3 C504.5,316.2 504.6,326.0 505.4,322.8 C506.2,319.6 507.9,295.1 508.9,297.3 C509.9,299.5 510.2,333.2 511.6,336.1 C513.1,339.1 516.2,316.7 517.6,315.0 C519.0,313.3 519.0,326.1 520.2,326.0 C521.4,325.9 523.5,314.0 524.7,314.1 C525.9,314.2 526.2,326.8 527.3,326.7 C528.4,326.6 530.1,313.7 531.2,313.7 C532.3,313.7 532.7,325.6 533.8,326.7 C534.9,327.8 536.7,320.8 537.7,320.2 C538.7,319.6 539.0,322.3 539.6,322.8 C540.2,323.3 540.4,323.0 541.2,323.4 C542.0,323.8 542.2,323.6 544.4,325.3 C546.6,327.0 551.0,331.0 554.6,333.4 C558.2,335.8 561.2,338.4 566.3,339.9 C571.4,341.4 578.7,342.1 585.3,342.4 C591.9,342.6 599.6,342.2 605.7,341.4 C611.8,340.6 617.5,339.2 621.8,337.7 C626.0,336.2 629.6,333.1 631.2,332.2" stroke="#383838" stroke-width="1.30" fill="none" />
<circle cx="585.3" cy="342.3" r="1.3" fill="#383838"/>
<line x1="640.7" y1="314.2" x2="640.7" y2="329.6" stroke="#333" stroke-width="1.80" />
<line x1="586.6" y1="357.7" x2="632.5" y2="357.7" stroke="#333" stroke-width="1.80" />
<text x="607.0" y="366.7" font-size="10.60" font-weight="bold" fill="#404040" text-anchor="start" textLength="10.5" lengthAdjust="spacingAndGlyphs" stroke="#404040" stroke-width="0.30" >5s</text>
<text transform="translate(655.3,267.8) rotate(-90)" font-size="11" font-weight="bold" fill="#222" textLength="22.3" lengthAdjust="spacingAndGlyphs">5mA</text>
<text transform="translate(655.3,336.3) rotate(-90)" font-size="11" font-weight="bold" fill="#222" textLength="28.5" lengthAdjust="spacingAndGlyphs">50mA</text>
</svg>
</body></html>
